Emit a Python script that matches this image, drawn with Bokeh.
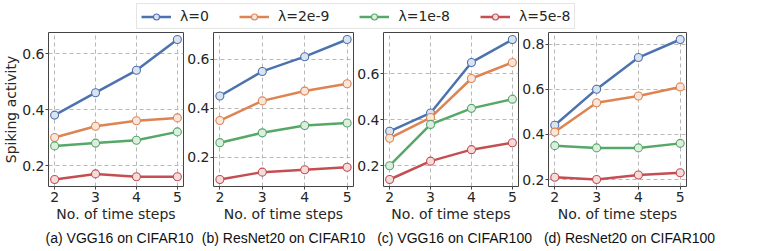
from bokeh.plotting import figure
from bokeh.models import Legend, LegendItem, Label, FixedTicker, Range1d
from bokeh.layouts import row, column
from bokeh.embed import file_html
from bokeh.resources import INLINE

# ---------------- data ----------------
steps = [2, 3, 4, 5]
series_labels = ["λ=0", "λ=2e-9", "λ=1e-8", "λ=5e-8"]
colors = ["#4C72B0", "#DD8452", "#55A868", "#C44E52"]

vgg16_c10_lam0 = [0.38, 0.46, 0.54, 0.65]
vgg16_c10_lam2e9 = [0.30, 0.34, 0.36, 0.37]
vgg16_c10_lam1e8 = [0.27, 0.28, 0.29, 0.32]
vgg16_c10_lam5e8 = [0.15, 0.17, 0.16, 0.16]

resnet20_c10_lam0 = [0.45, 0.55, 0.61, 0.68]
resnet20_c10_lam2e9 = [0.35, 0.43, 0.47, 0.50]
resnet20_c10_lam1e8 = [0.26, 0.30, 0.33, 0.34]
resnet20_c10_lam5e8 = [0.11, 0.14, 0.15, 0.16]

vgg16_c100_lam0 = [0.35, 0.43, 0.65, 0.75]
vgg16_c100_lam2e9 = [0.32, 0.41, 0.58, 0.65]
vgg16_c100_lam1e8 = [0.20, 0.38, 0.45, 0.49]
vgg16_c100_lam5e8 = [0.14, 0.22, 0.27, 0.30]

resnet20_c100_lam0 = [0.44, 0.60, 0.74, 0.82]
resnet20_c100_lam2e9 = [0.41, 0.54, 0.57, 0.61]
resnet20_c100_lam1e8 = [0.35, 0.34, 0.34, 0.36]
resnet20_c100_lam5e8 = [0.21, 0.20, 0.22, 0.23]

captions = ["(a) VGG16 on CIFAR10", "(b) ResNet20 on CIFAR10",
            "(c) VGG16  on CIFAR100", "(d) ResNet20 on CIFAR100"]
x_label = "No. of time steps"
y_label = "Spiking activity"
y_ticks = [0.2, 0.4, 0.6, 0.8]

panels = [
    [vgg16_c10_lam0, vgg16_c10_lam2e9, vgg16_c10_lam1e8, vgg16_c10_lam5e8],
    [resnet20_c10_lam0, resnet20_c10_lam2e9, resnet20_c10_lam1e8, resnet20_c10_lam5e8],
    [vgg16_c100_lam0, vgg16_c100_lam2e9, vgg16_c100_lam1e8, vgg16_c100_lam5e8],
    [resnet20_c100_lam0, resnet20_c100_lam2e9, resnet20_c100_lam1e8, resnet20_c100_lam5e8],
]

# ---------------- style / layout ----------------
FONT = "DejaVu Sans"
TXT = "#262626"
frame_widths = [135, 140, 135, 138]
left_borders = [42, 29, 27, 27]
right_borders = [1, 1, 1, 15]
FRAME_H = 154
caption_centers = [119, 283, 456, 629]   # screen x within the caption strip
TOTAL_W = 744


def pale(hexcol, amt=0.2):
    r, g, b = (int(hexcol[i:i + 2], 16) for i in (1, 3, 5))
    mix = lambda c: int(round(c * amt + 255 * (1 - amt)))
    return "#%02x%02x%02x" % (mix(r), mix(g), mix(b))


def make_panel(i):
    data = panels[i]
    lo = min(min(s) for s in data)
    hi = max(max(s) for s in data)
    pad = 0.05 * (hi - lo)
    p = figure(frame_width=frame_widths[i], frame_height=FRAME_H,
               x_range=Range1d(1.85, 5.15), y_range=Range1d(lo - pad, hi + pad),
               output_backend="svg", toolbar_location=None,
               min_border_left=left_borders[i], min_border_right=right_borders[i],
               min_border_top=2, min_border_bottom=0)
    p.background_fill_color = "white"
    p.border_fill_color = "white"
    p.outline_line_color = "#444444"
    p.outline_line_width = 1

    for s, c in zip(data, colors):
        p.line(steps, s, line_color=c, line_width=2.5)
        p.scatter(steps, s, marker="circle", size=8, fill_color=pale(c),
                  line_color=c, line_width=1.1)

    p.xaxis.ticker = FixedTicker(ticks=steps)
    p.yaxis.ticker = FixedTicker(ticks=y_ticks)
    for ax in (p.xaxis[0], p.yaxis[0]):
        ax.axis_line_color = None
        ax.major_tick_line_color = "#444444"
        ax.major_tick_out = 3
        ax.major_tick_in = 0
        ax.minor_tick_line_color = None
        ax.major_label_text_font = FONT
        ax.major_label_text_font_size = "14px"
        ax.major_label_text_color = TXT
    p.yaxis.major_label_standoff = 1
    p.xaxis.major_label_standoff = 2
    p.xaxis.axis_label = x_label
    p.xaxis.axis_label_text_font = FONT
    p.xaxis.axis_label_text_font_size = "14px"
    p.xaxis.axis_label_text_font_style = "normal"
    p.xaxis.axis_label_text_color = TXT
    p.xaxis.axis_label_standoff = 1
    if i == 0:
        p.yaxis.axis_label = y_label
        p.yaxis.axis_label_text_font = FONT
        p.yaxis.axis_label_text_font_size = "14px"
        p.yaxis.axis_label_text_font_style = "normal"
        p.yaxis.axis_label_text_color = TXT
        p.yaxis.axis_label_standoff = 0

    p.xgrid.ticker = FixedTicker(ticks=steps)
    p.ygrid.ticker = FixedTicker(ticks=y_ticks)
    p.grid.grid_line_color = "#b8b8b8"
    p.grid.grid_line_dash = "4 3"
    p.grid.grid_line_width = 1
    return p


figs = [make_panel(i) for i in range(4)]

# ---------------- legend strip ----------------
lg = figure(width=TOTAL_W, height=30, output_backend="svg", toolbar_location=None,
            x_range=Range1d(0, 1), y_range=Range1d(10, 11),
            x_axis_location=None, y_axis_location=None,
            min_border_left=0, min_border_right=0, min_border_top=0, min_border_bottom=0)
lg.outline_line_color = None
lg.grid.visible = False
items = []
for s, c, lab in zip(panels[0], colors, series_labels):
    r1 = lg.line(steps, s, line_color=c, line_width=2.5)
    r2 = lg.scatter(steps, s, marker="circle", size=8, fill_color=pale(c),
                    line_color=c, line_width=1.1)
    items.append(LegendItem(label=lab, renderers=[r1, r2]))
legend = Legend(items=items, orientation="horizontal", location=(136, 1),
                label_text_font=FONT, label_text_font_size="14px",
                label_text_color=TXT, glyph_width=30, glyph_height=15,
                label_standoff=9, spacing=30, padding=4, margin=0,
                border_line_color="#cccccc", border_line_width=1,
                background_fill_color="white", background_fill_alpha=1)
lg.add_layout(legend, "center")

# ---------------- caption strip ----------------
cap = figure(width=TOTAL_W, height=24, output_backend="svg", toolbar_location=None,
             x_range=Range1d(0, 1), y_range=Range1d(0, 1),
             x_axis_location=None, y_axis_location=None,
             min_border_left=0, min_border_right=0, min_border_top=0, min_border_bottom=0)
cap.outline_line_color = None
cap.grid.visible = False
for cx, txt in zip(caption_centers, captions):
    cap.add_layout(Label(x=cx, y=11, x_units="screen", y_units="screen", text=txt,
                         text_align="center", text_baseline="middle",
                         text_font="Liberation Sans", text_font_size="14px",
                         text_color="#111111"))

layout = column(lg, row(*figs, spacing=0), cap, spacing=0)

open("out.html", "w").write(file_html(layout, INLINE))
